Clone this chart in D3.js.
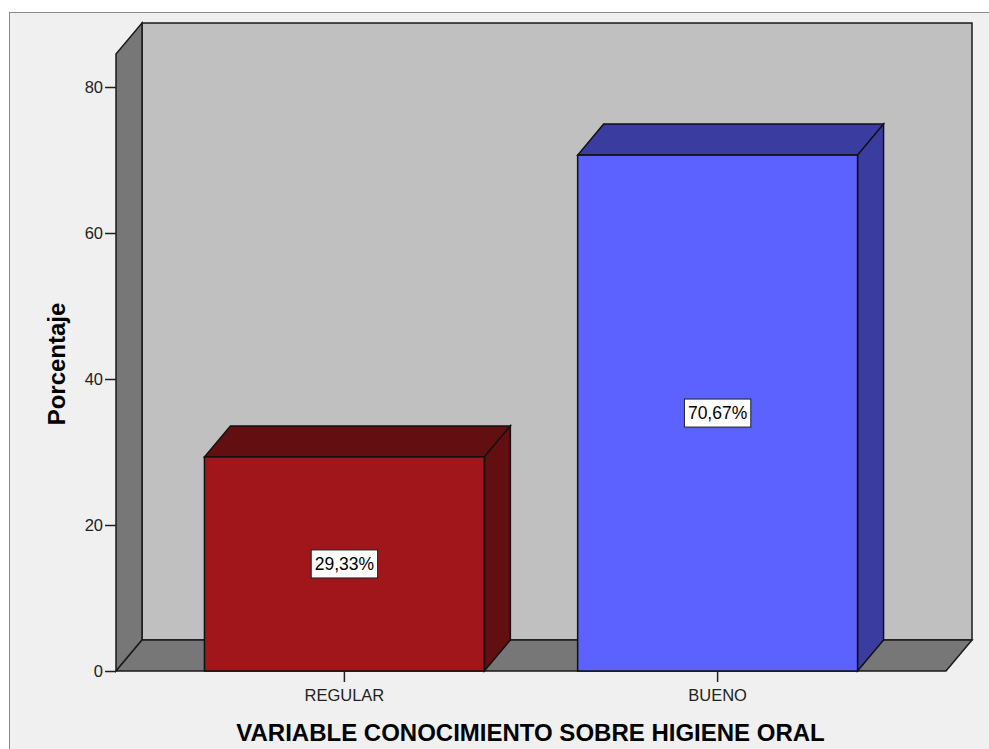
<!DOCTYPE html>
<html>
<head>
<meta charset="utf-8">
<script src="https://cdn.jsdelivr.net/npm/d3@7"></script>
<style>
  body { margin: 0; background: #fff; }
  svg { display: block; font-family: "Liberation Sans", Arial, sans-serif; }
</style>
</head>
<body>
<div id="chart-container"></div>
<script>
const categories = ["REGULAR", "BUENO"];
const percentages = [29.33, 70.67];
const valueLabels = ["29,33%", "70,67%"];
const yTicks = [0, 20, 40, 60, 80];
const frontColors = ["#a1161a", "#5c62ff"];
const topColors = ["#630e11", "#3a3ca0"];

const width = 989;
const height = 749;
const depthX = 26;
const depthY = 31;
const left = 116;
const right = 946;
const bottom = 671;

const svg = d3
  .select("#chart-container")
  .append("svg")
  .attr("width", width)
  .attr("height", height);

// outer frame
svg.append("rect")
  .attr("x", 9.5).attr("y", 12.5)
  .attr("width", width + 10).attr("height", height + 10)
  .attr("fill", "#f0f0f0").attr("stroke", "#8a8a8a");

const x = d3.scaleBand()
  .domain(categories)
  .range([left, right])
  .paddingInner(0.25)
  .paddingOuter(0.237);

const y = d3.scaleLinear().domain([0, 80]).range([bottom, 87]);
const yTop = y(80) - 33; // top of the walls

// back wall
svg.append("rect")
  .attr("x", left + depthX).attr("y", yTop - depthY)
  .attr("width", right - left).attr("height", bottom - yTop)
  .attr("fill", "#c0c0c0").attr("stroke", "#1a1a1a").attr("stroke-width", 1.5);

// left wall
svg.append("path")
  .attr("d", `M${left},${yTop}L${left + depthX},${yTop - depthY}L${left + depthX},${bottom - depthY}L${left},${bottom}Z`)
  .attr("fill", "#777").attr("stroke", "#1a1a1a").attr("stroke-width", 1.5);

// floor
svg.append("path")
  .attr("d", `M${left},${bottom}L${left + depthX},${bottom - depthY}L${right + depthX},${bottom - depthY}L${right},${bottom}Z`)
  .attr("fill", "#777").attr("stroke", "#1a1a1a").attr("stroke-width", 1.5);

// bars
const bars = svg.selectAll(".bar")
  .data(categories)
  .join("g")
  .attr("class", "bar");

bars.append("path")
  .attr("d", (d, i) => {
    const x0 = x(d), x1 = x(d) + x.bandwidth(), yv = y(percentages[i]);
    return `M${x0},${yv}L${x0 + depthX},${yv - depthY}L${x1 + depthX},${yv - depthY}L${x1},${yv}Z`;
  })
  .attr("fill", (d, i) => topColors[i]).attr("stroke", "#111").attr("stroke-width", 1.5);

bars.append("path")
  .attr("d", (d, i) => {
    const x1 = x(d) + x.bandwidth(), yv = y(percentages[i]);
    return `M${x1},${yv}L${x1 + depthX},${yv - depthY}L${x1 + depthX},${bottom - depthY}L${x1},${bottom}Z`;
  })
  .attr("fill", (d, i) => topColors[i]).attr("stroke", "#111").attr("stroke-width", 1.5);

bars.append("rect")
  .attr("x", (d) => x(d))
  .attr("y", (d, i) => y(percentages[i]))
  .attr("width", x.bandwidth())
  .attr("height", (d, i) => bottom - y(percentages[i]))
  .attr("fill", (d, i) => frontColors[i]).attr("stroke", "#111").attr("stroke-width", 1.5);

// value labels
bars.each(function (d, i) {
  const g = d3.select(this);
  const cx = x(d) + x.bandwidth() / 2;
  const cy = (y(percentages[i]) + bottom) / 2;
  const t = g.append("text")
    .attr("x", cx).attr("y", cy)
    .attr("text-anchor", "middle").attr("dominant-baseline", "central")
    .attr("font-size", 17.5).attr("fill", "#000")
    .text(valueLabels[i]);
  const b = t.node().getBBox();
  g.insert("rect", "text")
    .attr("x", b.x - 3.5).attr("y", b.y - 4)
    .attr("width", b.width + 7).attr("height", b.height + 8)
    .attr("fill", "#fff").attr("stroke", "#222");
});

// y axis
const yAxis = svg.append("g")
  .attr("transform", `translate(${left},0)`)
  .call(d3.axisLeft(y).tickValues(yTicks).tickSize(11).tickPadding(2));
yAxis.select(".domain").remove();
yAxis.selectAll("line").attr("stroke", "#222").attr("stroke-width", 1.5);
yAxis.selectAll("text").attr("font-size", 16.5).attr("fill", "#222")
  .attr("font-family", "Liberation Sans, Arial, sans-serif");

// x axis
const xAxis = svg.append("g")
  .attr("transform", `translate(0,${bottom})`)
  .call(d3.axisBottom(x).tickSize(11).tickPadding(7));
xAxis.select(".domain").remove();
xAxis.selectAll("line").attr("stroke", "#222").attr("stroke-width", 1.5);
xAxis.selectAll("text").attr("font-size", 16.5).attr("fill", "#222")
  .attr("font-family", "Liberation Sans, Arial, sans-serif");

// titles
svg.append("text")
  .attr("x", 530.5).attr("y", 741)
  .attr("text-anchor", "middle")
  .attr("font-size", 24).attr("font-weight", "bold")
  .text("VARIABLE CONOCIMIENTO SOBRE HIGIENE ORAL");

svg.append("text")
  .attr("transform", "translate(65,364) rotate(-90)")
  .attr("text-anchor", "middle")
  .attr("font-size", 24).attr("font-weight", "bold")
  .text("Porcentaje");
</script>
</body>
</html>
